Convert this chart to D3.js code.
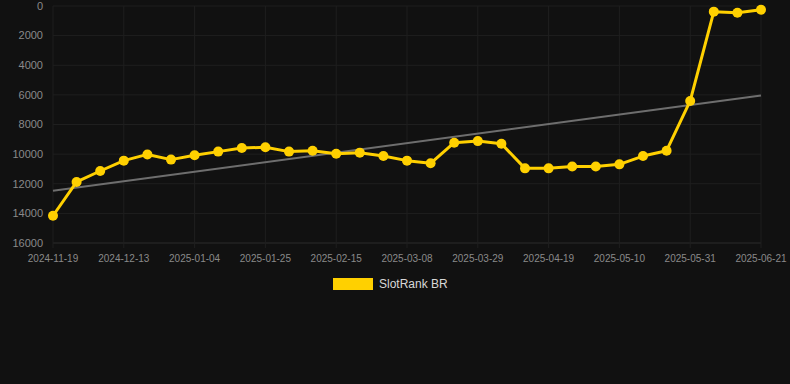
<!DOCTYPE html>
<html>
<head>
<meta charset="utf-8">
<script src="https://cdn.jsdelivr.net/npm/d3@7"></script>
<style>
html,body{margin:0;padding:0;background:#111111;}
svg{display:block;}
</style>
</head>
<body>
<svg id="chart" width="790" height="384"></svg>
<script>
const dates = ["2024-11-19","2024-11-29","2024-12-06","2024-12-13","2024-12-20","2024-12-27","2025-01-04","2025-01-11","2025-01-18","2025-01-25","2025-02-01","2025-02-08","2025-02-15","2025-02-22","2025-03-01","2025-03-08","2025-03-15","2025-03-22","2025-03-29","2025-04-05","2025-04-12","2025-04-19","2025-04-26","2025-05-03","2025-05-10","2025-05-17","2025-05-24","2025-05-31","2025-06-07","2025-06-14","2025-06-21"];
const ranks = [14160,11880,11140,10440,10020,10370,10080,9830,9590,9540,9830,9770,9970,9900,10130,10440,10620,9230,9120,9300,10960,10960,10830,10830,10690,10130,9770,6410,380,450,250];
const yTicks = [0,2000,4000,6000,8000,10000,12000,14000,16000];
const xTickLabels = ["2024-11-19","2024-12-13","2025-01-04","2025-01-25","2025-02-15","2025-03-08","2025-03-29","2025-04-19","2025-05-10","2025-05-31","2025-06-21"];
const seriesName = "SlotRank BR";

(function () {
const svg = d3.select("#chart");
const pl = 53, pr = 761, pt = 6, pb = 243;
const x = d3.scalePoint().domain(dates).range([pl, pr]);
const y = d3.scaleLinear().domain([0, 16000]).range([pt, pb]);
const font = "Liberation Sans, Arial, Helvetica, sans-serif";

// grid
const g = svg.append("g");
g.selectAll(".hg").data(yTicks).join("line")
  .attr("x1", pl).attr("x2", pr)
  .attr("y1", d => y(d)).attr("y2", d => y(d))
  .attr("stroke", d => d === 16000 ? "#2c2c2c" : "#1f1f1f").attr("stroke-width", 1);
g.selectAll(".vg").data(xTickLabels).join("line")
  .attr("x1", d => x(d)).attr("x2", d => x(d))
  .attr("y1", pt).attr("y2", pb + 5)
  .attr("stroke", "#1f1f1f").attr("stroke-width", 1);

// y axis labels
svg.append("g").selectAll("text").data(yTicks).join("text")
  .attr("x", 43).attr("y", d => y(d)).attr("dy", "0.35em")
  .attr("text-anchor", "end").attr("fill", "#8a8a8a")
  .style("font-family", font).style("font-size", "11px")
  .text(d => d);

// x axis labels
svg.append("g").selectAll("text").data(xTickLabels).join("text")
  .attr("x", d => x(d)).attr("y", 258).attr("dy", "0.35em")
  .attr("text-anchor", "middle").attr("fill", "#8a8a8a")
  .style("font-family", font).style("font-size", "10px")
  .text(d => d);

// trend line (least squares on index)
const n = ranks.length;
const mx = d3.mean(d3.range(n)), my = d3.mean(ranks);
let sxy = 0, sxx = 0;
ranks.forEach((v, i) => { sxy += (i - mx) * (v - my); sxx += (i - mx) * (i - mx); });
const slope = sxy / sxx, icpt = my - slope * mx;
svg.append("line")
  .attr("x1", x(dates[0])).attr("y1", y(icpt))
  .attr("x2", x(dates[n - 1])).attr("y2", y(icpt + slope * (n - 1)))
  .attr("stroke", "#6e6e6e").attr("stroke-width", 2);

// series line
const line = d3.line().x((d, i) => x(dates[i])).y(d => y(d));
svg.append("path").datum(ranks)
  .attr("d", line).attr("fill", "none")
  .attr("stroke", "#FFD000").attr("stroke-width", 3).attr("stroke-linejoin", "round");
svg.append("g").selectAll("circle").data(ranks).join("circle")
  .attr("cx", (d, i) => x(dates[i])).attr("cy", d => y(d)).attr("r", 5)
  .attr("fill", "#FFD000");

// legend
const lg = svg.append("g");
lg.append("rect").attr("x", 333).attr("y", 278).attr("width", 40).attr("height", 12)
  .attr("fill", "#FFD000");
lg.append("text").attr("x", 379).attr("y", 284).attr("dy", "0.35em")
  .attr("fill", "#d8d8d8").style("font-family", font).style("font-size", "12px")
  .text(seriesName);
})();
</script>
</body>
</html>
